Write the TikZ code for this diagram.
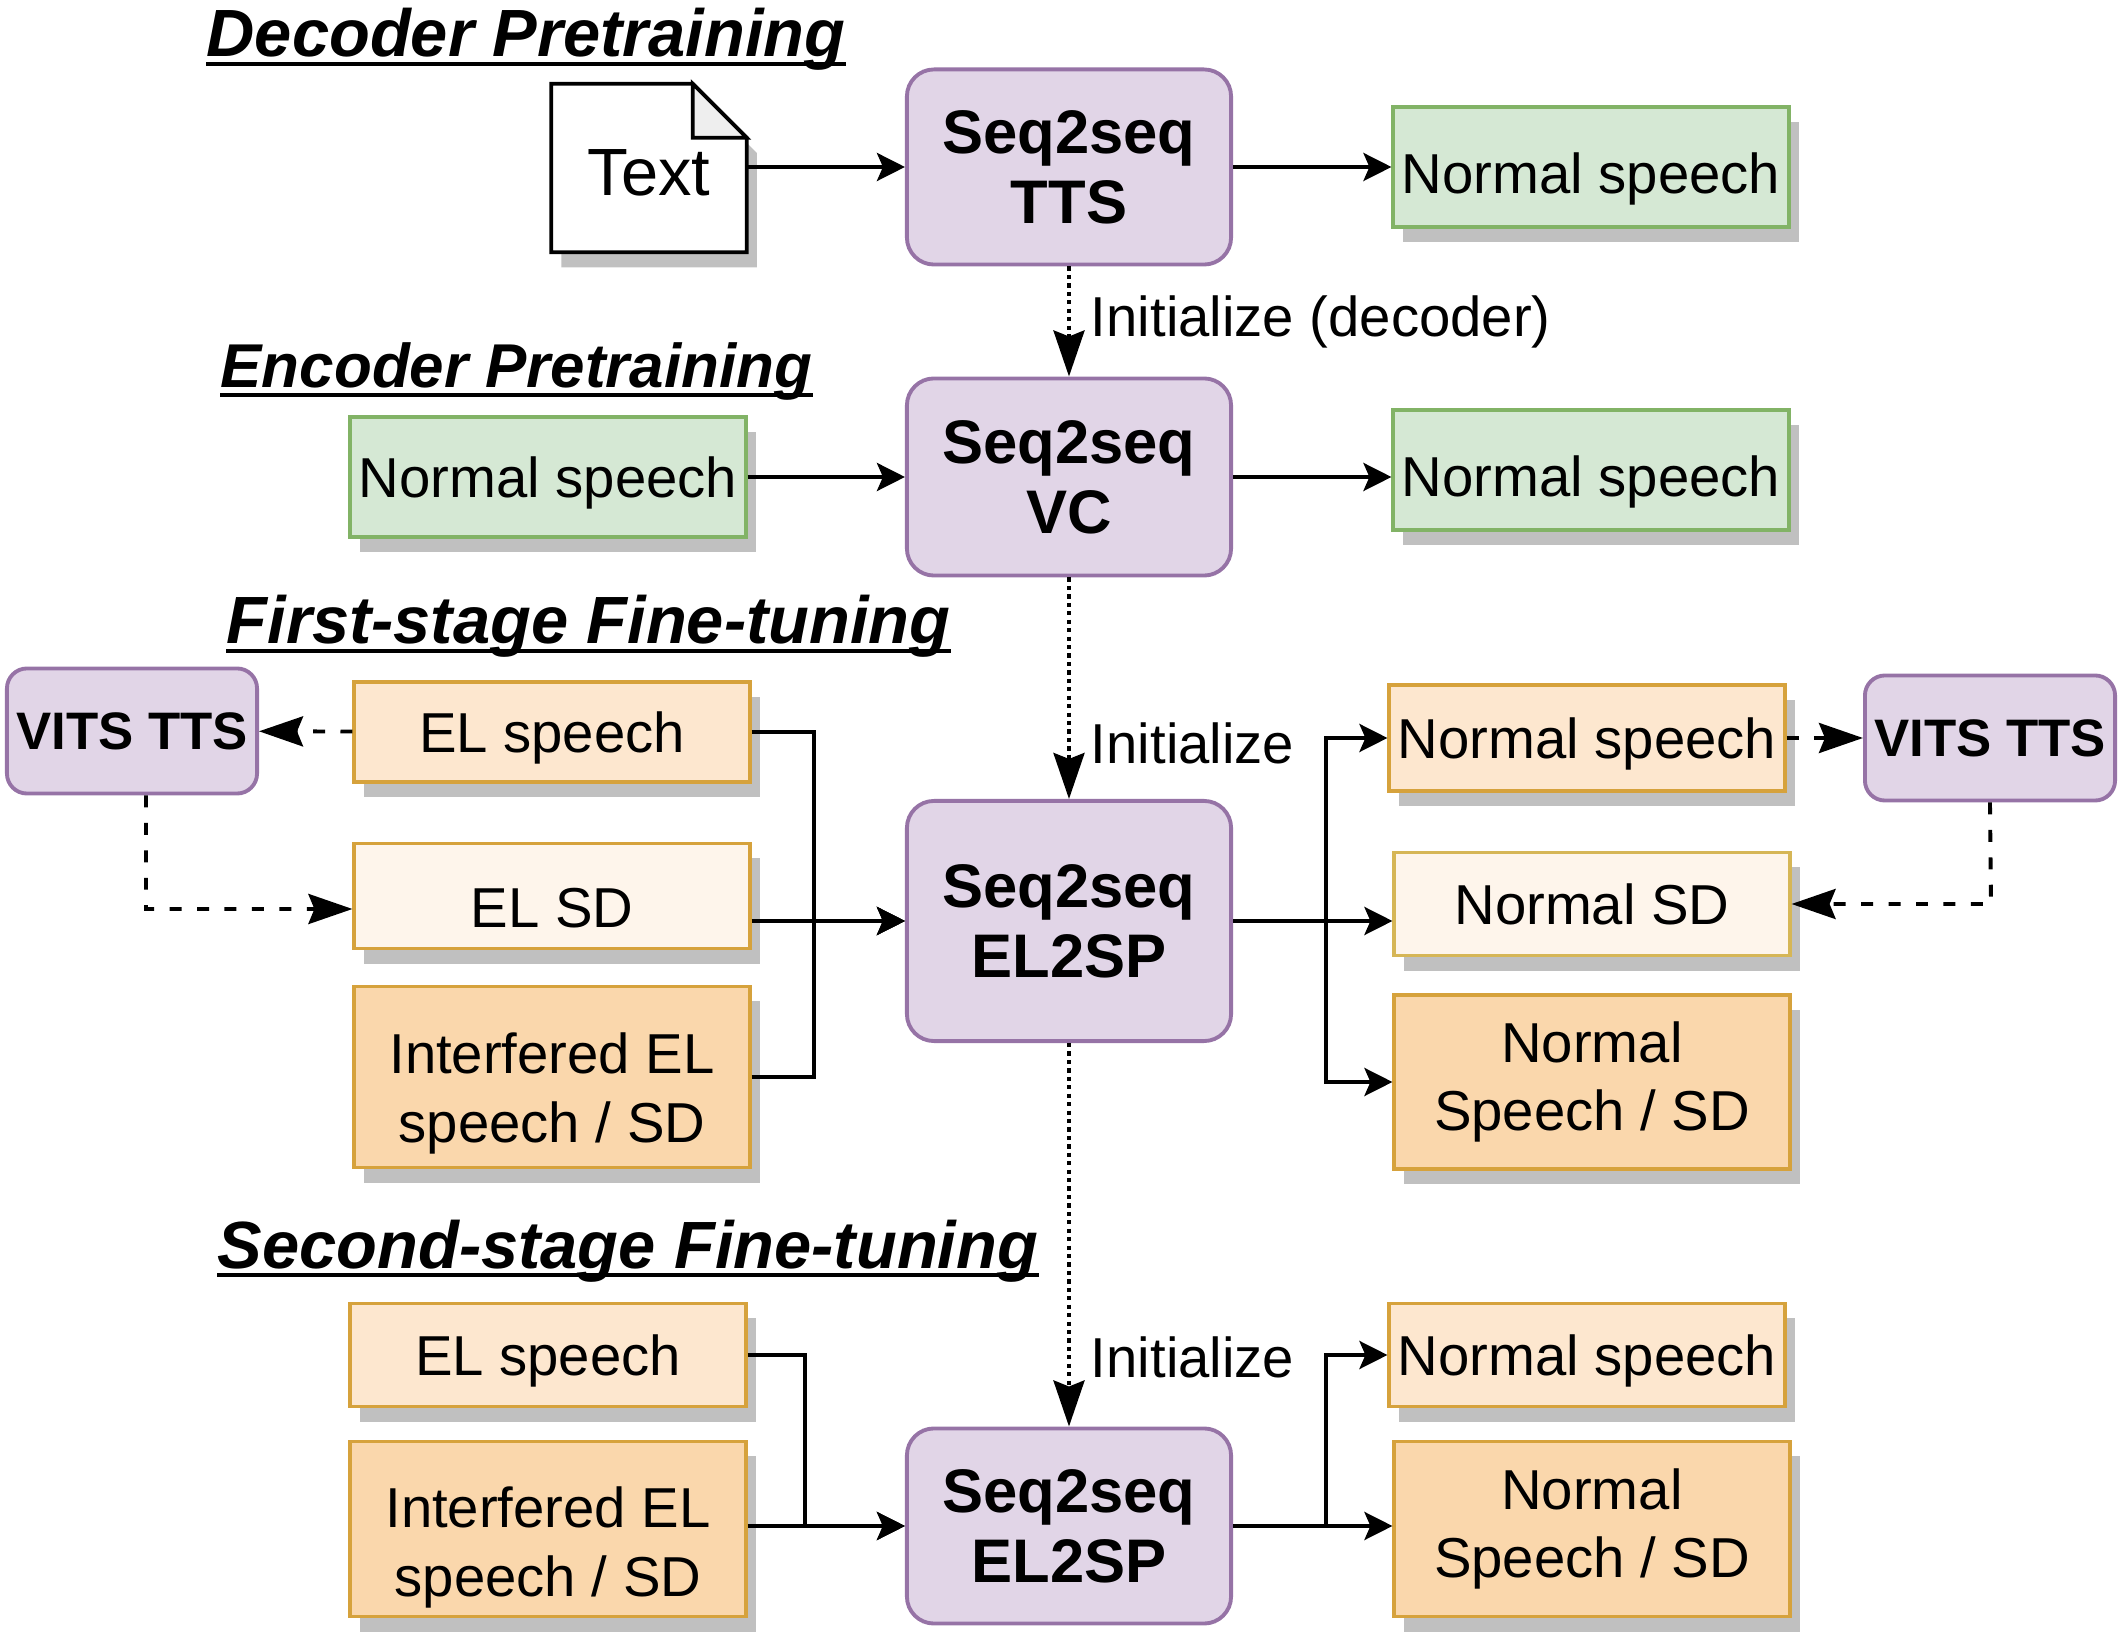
\documentclass[tikz,border=0pt]{standalone}
\usepackage{fontspec}
\setmainfont{Liberation Sans}
\usetikzlibrary{arrows.meta, shadows, backgrounds}
\definecolor{ModelFill}{HTML}{E1D5E7}
\definecolor{ModelLine}{HTML}{9673A6}
\definecolor{SpeechFill}{HTML}{D5E8D4}
\definecolor{SpeechLine}{HTML}{82B366}
\definecolor{ELFill}{HTML}{FDE7CF}
\definecolor{ELLine}{HTML}{D6A23C}
\definecolor{SDFill}{HTML}{FEF5EB}
\definecolor{SDLine}{HTML}{D6B656}
\definecolor{MixFill}{HTML}{FAD7AC}
\definecolor{ShadowGray}{HTML}{C0C0C0}
\definecolor{FoldGray}{HTML}{EEEEEE}

\begin{document}
\begin{tikzpicture}[x=0.01cm, y=-0.01cm,
    model/.style={draw=ModelLine, fill=ModelFill, line width=1.1pt,
      rounded corners=0.27cm, align=center, minimum width=3.24cm,
      font=\fontsize{17.5}{20}\selectfont\bfseries},
    vits/.style={draw=ModelLine, fill=ModelFill, line width=1.1pt,
      rounded corners=0.2cm, minimum width=2.5cm, minimum height=1.25cm,
      inner sep=0pt, font=\fontsize{15}{18}\selectfont\bfseries},
    databox/.style={line width=1.1pt, align=center, minimum width=3.95cm,
      inner sep=0pt, font=\fontsize{16}{19.5}\selectfont,
      drop shadow={shadow xshift=0.1cm, shadow yshift=-0.15cm,
        fill=ShadowGray, opacity=1}},
    oneline/.style={text depth=0pt},
    speech/.style={databox, oneline, draw=SpeechLine, fill=SpeechFill, minimum height=1.2cm},
    elbox/.style={databox, oneline, draw=ELLine, fill=ELFill},
    sdbox/.style={databox, oneline, draw=ELLine, fill=SDFill},
    mixbox/.style={databox, draw=ELLine, fill=MixFill},
    stagetitle/.style={anchor=base west, inner sep=0pt,
      font=\fontsize{19}{23}\selectfont\bfseries\itshape},
    uline/.style={line width=1.4pt},
    flow/.style={line width=1.1pt,
      -{Stealth[length=0.28cm, width=0.28cm, inset=0.06cm]}},
    dashflow/.style={line width=1.1pt, dash pattern=on 3.4pt off 4.4pt,
      -{Stealth[length=0.44cm, width=0.3cm, inset=0.06cm]}},
    initflow/.style={line width=1.1pt, dash pattern=on 1.2pt off 1.2pt,
      -{Stealth[length=0.46cm, width=0.31cm, inset=0.06cm]}},
    lbl/.style={anchor=west, xshift=0.2cm, inner sep=0pt,
      font=\fontsize{16}{19.5}\selectfont}
  ]
  \useasboundingbox (0,0) rectangle (2126,1640);

  % decoder pretraining
  \node[stagetitle] (tdec) at (206,57) {Decoder Pretraining};
  \node[inner sep=0pt, minimum width=1.94cm, minimum height=1.67cm, text height=0.56cm,
    font=\fontsize{19}{23}\selectfont] (txt) at (649,168) {Text};
  \node[model, minimum height=1.95cm] (tts) at (1069,167) {Seq2seq\\TTS};
  \node[speech, text height=0.52cm] (nsa) at (1591,167) {Normal speech};

  % encoder pretraining
  \node[stagetitle, font=\fontsize{17.6}{21}\selectfont\bfseries\itshape] (tenc)
    at (220,388) {Encoder Pretraining};
  \node[model, minimum height=1.97cm] (vc) at (1069,477) {Seq2seq\\VC};
  \node[speech] (nsb) at (548,477) {Normal speech};
  \node[speech, text height=0.52cm] (nsc) at (1591,470) {Normal speech};

  % first-stage fine-tuning
  \node[stagetitle] (tfirst) at (226,644) {First-stage Fine-tuning};
  \node[model, minimum height=2.4cm] (elsp1) at (1069,921) {Seq2seq\\EL2SP};
  \node[vits] (vitsl) at (132,731) {VITS TTS};
  \node[elbox, minimum height=1cm] (elin) at (552,732) {EL speech};
  \node[sdbox, minimum height=1.05cm, text height=0.62cm] (elsd) at (552,896) {EL SD};
  \node[mixbox, minimum height=1.81cm] (elmix) at (552,1077)
    {\rule{0pt}{0.74cm}Interfered EL\\speech / SD};
  \node[elbox, minimum height=1.06cm] (spout1) at (1587,738) {Normal speech};
  \node[sdbox, draw=SDLine, minimum height=1.03cm] (sdout1) at (1592,904) {Normal SD};
  \node[mixbox, minimum height=1.74cm] (mixout1) at (1592,1082) {Normal\\Speech / SD};
  \node[vits] (vitsr) at (1990,738) {VITS TTS};

  % second-stage fine-tuning
  \node[stagetitle] (tsecond) at (217,1268) {Second-stage Fine-tuning};
  \node[model, minimum height=1.95cm] (elsp2) at (1069,1526) {Seq2seq\\EL2SP};
  \node[elbox, minimum height=1.03cm] (elin2) at (548,1355) {EL speech};
  \node[mixbox, minimum height=1.75cm] (elmix2) at (548,1529)
    {\rule{0pt}{0.78cm}Interfered EL\\speech / SD};
  \node[elbox, minimum height=1.03cm] (spout2) at (1587,1355) {Normal speech};
  \node[mixbox, minimum height=1.75cm] (mixout2) at (1592,1529) {Normal\\Speech / SD};

  \foreach \t in {tdec, tenc, tfirst, tsecond}
    \draw[uline] ([yshift=-0.07cm]\t.base west) -- ([yshift=-0.07cm]\t.base east);

  % text document with folded corner
  \begin{scope}[on background layer]
    \fill[ShadowGray, transform canvas={xshift=0.1cm, yshift=-0.15cm}]
      (txt.south west) -- (txt.north west) -- ([xshift=-0.54cm]txt.north east)
      -- ([yshift=-0.54cm]txt.north east) -- (txt.south east) -- cycle;
    \filldraw[fill=white, line width=1.1pt]
      (txt.south west) -- (txt.north west) -- ([xshift=-0.54cm]txt.north east)
      -- ([yshift=-0.54cm]txt.north east) -- (txt.south east) -- cycle;
    \filldraw[fill=FoldGray, line width=1.1pt]
      ([xshift=-0.54cm]txt.north east) -- ([xshift=-0.54cm, yshift=-0.54cm]txt.north east)
      -- ([yshift=-0.54cm]txt.north east) -- cycle;
  \end{scope}

  % pretraining arrows
  \draw[flow] (txt.east |- tts.west) -- (tts.west);
  \draw[flow] (tts) -- (nsa);
  \draw[initflow] (tts) -- node[lbl] {Initialize (decoder)} (vc);
  \draw[flow] (nsb) -- (vc);
  \draw[flow] (vc) -- (vc -| nsc.west);
  \draw[initflow] (vc) -- node[lbl, pos=0.75] {Initialize} (elsp1);

  % first stage arrows
  \coordinate (vbendl) at (146,909);
  \coordinate (lmerge) at (814,921);
  \coordinate (rsplit) at (1326,921);
  \coordinate (vbendr) at (1991,904);
  \draw[dashflow] (elin) -- (vitsl);
  \draw[dashflow] ([xshift=0.14cm]vitsl.south) -- (vbendl) -- (vbendl -| elsd.west);
  \draw[flow] (elin.east) -| (lmerge) -- (elsp1.west);
  \draw[flow] (elmix.east) -| (lmerge) -- (elsp1.west);
  \draw[flow] (elsd.east |- elsp1.west) -- (elsp1.west);
  \draw[flow] (elsp1.east) -- (rsplit) |- (spout1.west);
  \draw[flow] (rsplit) |- (mixout1.west);
  \draw[flow] (rsplit) -- (rsplit -| sdout1.west);
  \draw[dashflow] (spout1) -- (vitsr);
  \draw[dashflow] (vitsr.south) -- (vbendr) -- (sdout1.east);
  \draw[initflow] (elsp1) -- node[lbl, pos=0.82] {Initialize} (elsp2);

  % second stage arrows
  \coordinate (lmerge2) at (805,1526);
  \coordinate (rsplit2) at (1326,1526);
  \draw[flow] (elin2.east) -| (lmerge2) -- (elsp2.west);
  \draw[flow] (elmix2.east |- elsp2.west) -- (elsp2.west);
  \draw[flow] (elsp2.east) -- (rsplit2) |- (spout2.west);
  \draw[flow] (rsplit2) -- (rsplit2 -| mixout2.west);
\end{tikzpicture}
\end{document}
